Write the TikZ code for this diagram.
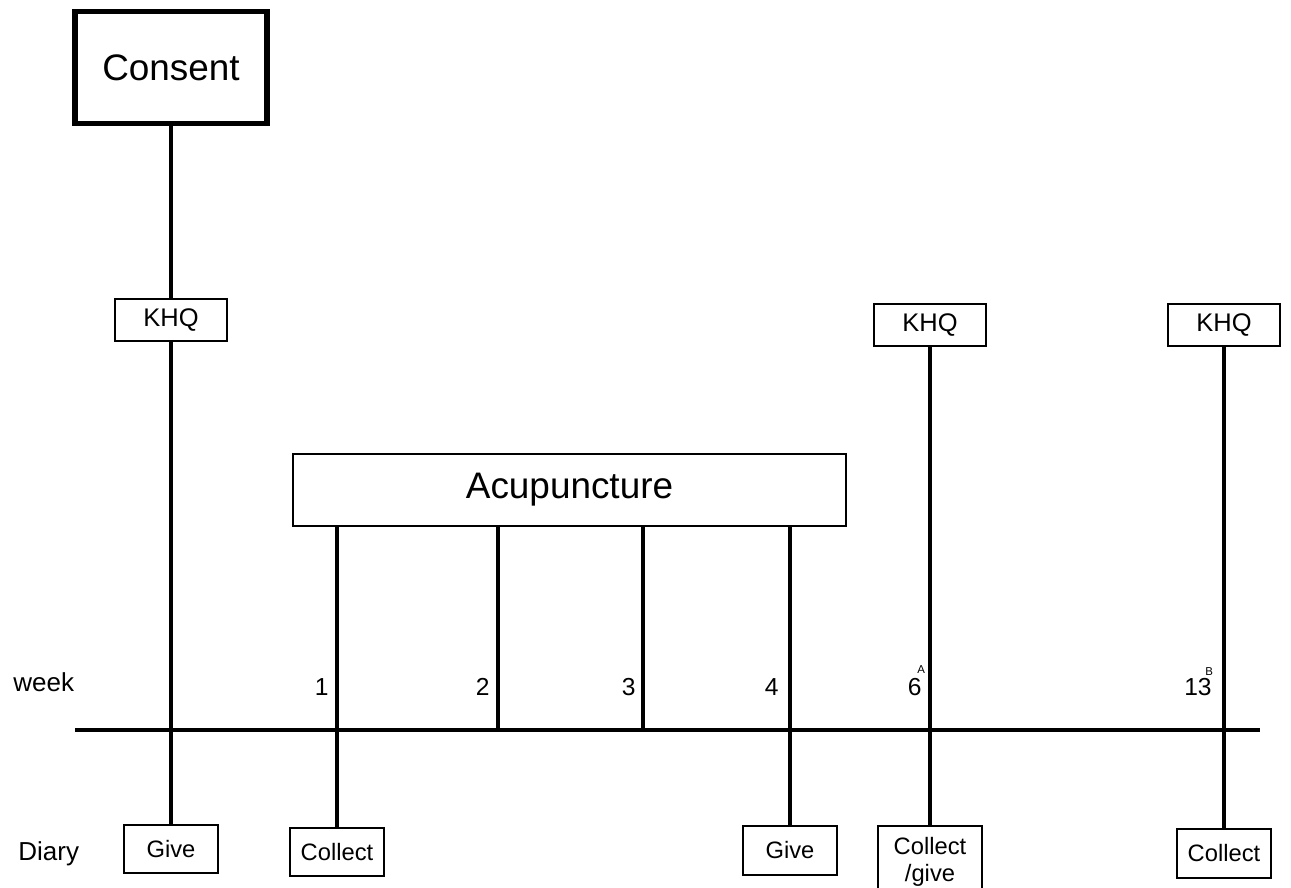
\documentclass[tikz,border=0pt]{standalone}
\usepackage{fontspec}
\setmainfont{Liberation Sans}

\begin{document}
\begin{tikzpicture}[
  box/.style={draw=black, line width=1.4pt, inner sep=0pt, align=center},
  smallbox/.style={box, minimum width=1.87cm, minimum height=.95cm, font=\fontsize{13.5}{15}\selectfont},
  khqbox/.style={box, minimum width=2.25cm, minimum height=.83cm, font=\fontsize{14.5}{16}\selectfont},
  rule/.style={draw=black, line width=2.8pt},
  timeline/.style={draw=black, line width=1.9pt},
  weeknum/.style={inner sep=0pt, font=\fontsize{14}{16}\selectfont},
  supmark/.style={inner sep=0pt, font=\fontsize{6.5}{7}\selectfont},
  rowlabel/.style={inner sep=0pt, anchor=base west, font=\fontsize{14.8}{17}\selectfont}
]
\useasboundingbox (0,0) rectangle (25.82,-17.74);

% Consent and the three questionnaire points.
\node[box, line width=2.9pt, minimum width=3.84cm, minimum height=2.24cm,
  font=\fontsize{21}{25}\selectfont] (consent) at (3.42,-1.35) {Consent};
\node[khqbox] (khq1) at (3.42,-6.40) {KHQ};
\node[khqbox] (khq2) at (18.60,-6.50) {KHQ};
\node[khqbox] (khq3) at (24.48,-6.50) {KHQ};

% Treatment block over weeks 1--4.
\node[box, line width=1.2pt, minimum width=11.06cm, minimum height=1.44cm,
  font=\fontsize{21}{25}\selectfont] (acu) at (11.39,-9.80) {Acupuncture};

% Time axis.
\coordinate (tstart) at (1.5,-14.6);
\coordinate (tend) at (25.2,-14.6);
\coordinate (w2) at (9.96,-14.6);
\coordinate (w3) at (12.86,-14.6);
\draw[timeline] (tstart) -- (tend);

\node[rowlabel] (week) at (0.26,-13.82) {week};
\node[weeknum, anchor=base east] (n1) at (6.58,-13.9) {1};
\node[weeknum, anchor=base east] (n2) at (9.80,-13.9) {2};
\node[weeknum, anchor=base east] (n3) at (12.72,-13.9) {3};
\node[weeknum, anchor=base east] (n4) at (15.58,-13.9) {4};
\node[weeknum, anchor=base east] (n6) at (18.44,-13.9) {6};
\node[weeknum, anchor=base east] (n13) at (24.24,-13.9) {13};
\node[supmark, anchor=base west] (supA) at (18.34,-13.46) {A};
\node[supmark, anchor=base west] (supB) at (24.10,-13.50) {B};

% Diary row.
\node[rowlabel] (diary) at (0.36,-17.2) {Diary};
\node[smallbox] (give1) at (3.42,-16.98) {Give};
\node[smallbox] (collect1) at (6.74,-17.04) {Collect};
\node[smallbox, minimum width=1.89cm, minimum height=.97cm] (give2) at (15.80,-17.01) {Give};
\node[smallbox, minimum width=2.07cm, minimum height=1.44cm] (cg) at (18.60,-17.24) {Collect\\/give};
\node[smallbox, minimum height=.97cm] (collect3) at (24.48,-17.07) {Collect};

% Vertical connectors.
\draw[rule] (consent) -- (khq1);
\draw[rule] (khq1) -- (give1);
\draw[rule] (acu.south -| collect1) -- (collect1);
\draw[rule] (acu.south -| w2) -- (w2);
\draw[rule] (acu.south -| w3) -- (w3);
\draw[rule] (acu.south -| give2) -- (give2);
\draw[rule] (khq2) -- (cg);
\draw[rule] (khq3) -- (collect3);
\end{tikzpicture}
\end{document}
